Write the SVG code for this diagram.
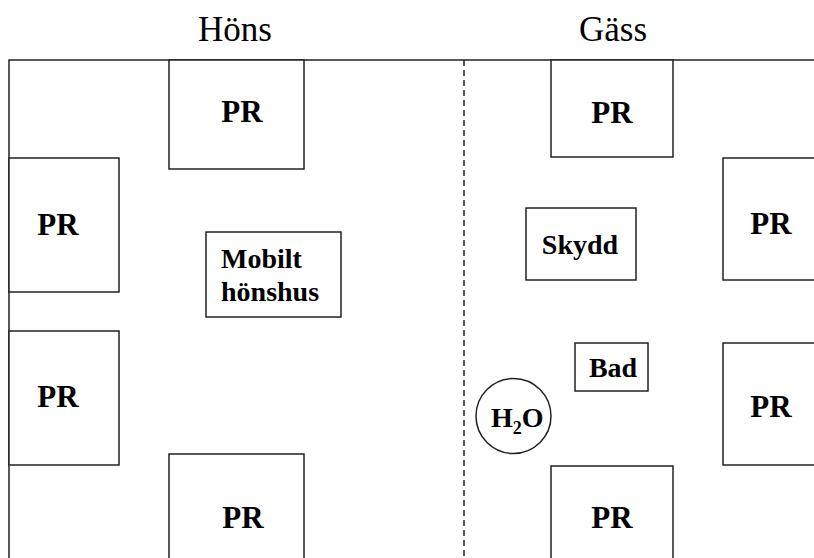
<svg xmlns="http://www.w3.org/2000/svg" width="814" height="558" viewBox="0 0 814 558">
<style>
.b{fill:#fff;stroke:#222;stroke-width:1.5}
.ln{fill:none;stroke:#222;stroke-width:1.5}
.pr{font-family:"Liberation Serif",serif;font-weight:bold;font-size:31px;fill:#000;text-anchor:middle}
.lb{font-family:"Liberation Serif",serif;font-weight:bold;font-size:28px;fill:#000}
.t{font-family:"Liberation Serif",serif;font-size:35px;fill:#000;text-anchor:middle}
</style>
<rect width="814" height="558" fill="#fff"/>
<g id="titles">
<text class="t" x="235" y="41">Höns</text>
<text class="t" x="613" y="41">Gäss</text>
</g>
<g id="connectors">
<path class="ln" d="M9,558 V60 H814"/>
<path class="ln" d="M464,60 V558" stroke-dasharray="6,4"/>
</g>
<g id="pr-top-left"><rect class="b" x="169" y="60" width="135" height="109"/><text class="pr" x="242" y="122">PR</text></g>
<g id="pr-left-1"><rect class="b" x="9" y="158" width="110" height="134"/><text class="pr" x="58" y="235">PR</text></g>
<g id="pr-left-2"><rect class="b" x="9" y="331" width="110" height="134"/><text class="pr" x="58" y="407">PR</text></g>
<g id="pr-bottom-left"><rect class="b" x="169" y="454" width="135" height="110"/><text class="pr" x="243" y="528">PR</text></g>
<g id="mobilt-honshus"><rect class="b" x="206" y="232" width="135" height="85"/><text class="lb" x="221" y="268">Mobilt</text><text class="lb" x="221" y="301">hönshus</text></g>
<g id="pr-top-right"><rect class="b" x="551" y="60" width="122" height="97"/><text class="pr" x="612" y="123">PR</text></g>
<g id="skydd"><rect class="b" x="526" y="208" width="110" height="72"/><text class="lb" x="580" y="254" text-anchor="middle">Skydd</text></g>
<g id="pr-right-1"><rect class="b" x="723" y="158" width="100" height="122"/><text class="pr" x="771" y="234">PR</text></g>
<g id="bad"><rect class="b" x="575" y="343" width="73" height="48"/><text class="lb" x="613" y="377" text-anchor="middle">Bad</text></g>
<g id="pr-right-2"><rect class="b" x="723" y="343" width="100" height="122"/><text class="pr" x="771" y="417">PR</text></g>
<g id="h2o"><ellipse class="b" cx="513.5" cy="416" rx="37.5" ry="37.5"/><text class="lb" x="491" y="427">H<tspan font-size="18" dy="7">2</tspan><tspan dy="-7">O</tspan></text></g>
<g id="pr-bottom-right"><rect class="b" x="551" y="466" width="122" height="98"/><text class="pr" x="612" y="528">PR</text></g>
</svg>
